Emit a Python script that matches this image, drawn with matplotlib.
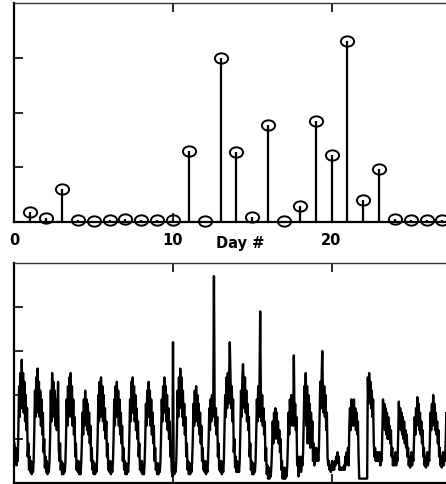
import numpy as np
import matplotlib
matplotlib.use("Agg")
import matplotlib.pyplot as plt
from matplotlib.path import Path
from matplotlib.transforms import Affine2D

# ---- daily totals (upper panel) ----
stem_days = list(range(1, 28))
stem_vals = [0.18, 0.07, 0.60, 0.04, 0.02, 0.03, 0.05, 0.03, 0.03, 0.03,
             1.29, 0.02, 3.00, 1.27, 0.10, 1.78, 0.01, 0.30, 1.85, 1.23,
             3.30, 0.40, 0.96, 0.05, 0.03, 0.04, 0.03]
day_ticks = [0, 10, 20]
day_labels = ["0", "10", "20"]

# ---- hourly series (lower panel), one row of 24 values per day ----
week1 = [
    [0.9, 0.5, 0.8, 0.4, 0.7, 0.5, 1.3, 2.2, 1.5, 2.5, 1.7, 2.8, 1.8, 2.5, 1.6, 2.3, 1.4, 2.0, 1.2, 1.7, 0.6, 0.9, 0.3, 0.6],
    [0.25, 0.5, 0.2, 0.45, 0.25, 0.5, 1.2, 2.1, 1.5, 2.4, 1.6, 2.6, 1.7, 2.3, 1.5, 2.1, 1.3, 1.9, 1.1, 1.6, 0.7, 1.0, 0.35, 0.6],
    [0.25, 0.5, 0.2, 0.4, 0.25, 0.5, 1.1, 2.1, 1.4, 2.5, 1.6, 2.3, 1.5, 2.1, 1.3, 1.9, 1.2, 1.7, 2.3, 0.8, 0.5, 0.9, 0.3, 0.5],
    [0.2, 0.45, 0.2, 0.4, 0.25, 0.45, 1.0, 1.9, 1.3, 2.2, 1.5, 2.4, 1.7, 2.5, 1.5, 2.2, 1.3, 1.9, 1.1, 1.5, 0.6, 0.9, 0.3, 0.5],
    [0.25, 0.5, 0.2, 0.4, 0.2, 0.45, 0.9, 1.6, 1.1, 1.9, 1.3, 2.1, 1.4, 1.9, 1.2, 1.8, 1.1, 1.6, 0.9, 1.3, 0.5, 0.8, 0.3, 0.5],
    [0.2, 0.45, 0.2, 0.4, 0.25, 0.5, 1.1, 2.0, 1.4, 2.3, 1.5, 2.4, 1.6, 2.2, 1.4, 2.0, 1.2, 1.7, 1.0, 1.4, 0.6, 0.9, 0.3, 0.5],
    [0.25, 0.5, 0.2, 0.4, 0.25, 0.45, 1.0, 1.9, 1.3, 2.2, 1.5, 2.3, 1.5, 2.1, 1.3, 1.9, 1.1, 1.6, 0.9, 1.3, 0.5, 0.8, 0.3, 0.5],
]
week2 = [
    [0.2, 0.45, 0.2, 0.4, 0.25, 0.5, 1.1, 1.9, 1.4, 2.3, 1.6, 2.4, 1.6, 2.2, 1.4, 2.0, 1.2, 1.7, 1.0, 1.4, 0.6, 0.9, 0.3, 0.5],
    [0.25, 0.5, 0.2, 0.4, 0.2, 0.45, 1.0, 1.8, 1.3, 2.1, 1.5, 2.3, 1.5, 2.1, 1.3, 1.9, 1.1, 1.6, 0.9, 1.3, 0.5, 0.8, 0.3, 0.45],
    [0.2, 0.45, 0.2, 0.4, 0.25, 0.5, 1.1, 1.9, 1.4, 2.2, 1.6, 2.4, 1.6, 2.2, 1.4, 2.0, 1.2, 1.7, 1.0, 1.4, 0.6, 0.9, 0.3, 0.15],
    [3.2, 0.4, 0.2, 0.45, 0.25, 0.5, 1.2, 2.1, 1.5, 2.4, 1.7, 2.6, 1.8, 2.4, 1.5, 2.1, 1.3, 1.8, 1.1, 1.5, 0.6, 0.9, 0.3, 0.5],
    [0.2, 0.45, 0.2, 0.4, 0.25, 0.5, 1.0, 1.8, 1.3, 2.1, 1.4, 2.2, 1.5, 2.0, 1.3, 1.8, 1.1, 1.6, 0.9, 1.3, 0.5, 0.8, 0.3, 0.5],
    [0.25, 0.5, 0.2, 0.4, 0.25, 0.5, 1.0, 1.7, 1.2, 1.9, 1.4, 2.0, 1.5, 1.9, 4.7, 1.8, 1.3, 1.7, 1.1, 1.5, 0.6, 0.9, 0.3, 0.5],
    [0.25, 0.5, 0.2, 0.45, 0.25, 0.5, 1.2, 2.0, 1.5, 2.4, 1.7, 2.5, 1.8, 2.4, 3.2, 2.5, 1.7, 2.2, 1.4, 1.9, 0.7, 1.0, 0.35, 0.6],
]
week3 = [
    [0.25, 0.5, 0.25, 0.45, 0.25, 0.5, 1.2, 2.1, 1.5, 2.4, 2.7, 2.2, 1.7, 2.4, 1.6, 2.1, 1.4, 1.8, 1.2, 1.5, 0.6, 0.9, 0.3, 0.5],
    [0.2, 0.45, 0.2, 0.4, 0.25, 0.5, 1.1, 1.9, 1.4, 2.2, 1.5, 2.2, 3.9, 2.1, 1.4, 2.0, 1.3, 1.7, 1.1, 1.4, 0.5, 0.8, 0.2, 0.4],
    [0.1, 0.35, 0.1, 0.3, 0.15, 0.4, 0.8, 1.4, 0.9, 1.6, 1.0, 1.7, 1.1, 1.6, 1.0, 1.4, 0.9, 1.2, 0.7, 1.0, 0.3, 0.5, 0.1, 0.3],
    [0.1, 0.35, 0.1, 0.3, 0.15, 0.4, 0.9, 1.6, 1.1, 1.9, 1.3, 2.0, 1.4, 1.9, 1.3, 2.9, 1.4, 1.8, 1.2, 1.5, 0.4, 0.6, 0.15, 0.35],
    [0.3, 0.6, 0.25, 0.5, 0.4, 0.7, 1.4, 2.2, 1.6, 2.5, 1.3, 2.2, 0.9, 2.0, 1.0, 1.8, 0.8, 1.6, 1.0, 1.4, 0.5, 0.9, 0.4, 0.7],
    [0.6, 0.8, 0.5, 0.7, 0.5, 0.8, 1.6, 2.3, 1.7, 2.4, 3.0, 2.1, 1.6, 2.2, 1.5, 2.0, 1.2, 1.6, 0.6, 0.4, 0.5, 0.3, 0.4, 0.25],
    [0.35, 0.5, 0.3, 0.45, 0.3, 0.5, 0.4, 0.6, 0.5, 0.7, 0.45, 0.6, 0.3, 0.35, 0.3, 0.35, 0.3, 0.35, 0.3, 0.4, 0.3, 0.6, 0.4, 0.7],
]
week4 = [
    [0.5, 0.8, 0.4, 1.3, 1.7, 1.2, 1.9, 1.4, 1.8, 1.3, 1.9, 1.4, 1.7, 1.2, 1.6, 1.1, 1.4, 0.6, 0.1, 0.1, 0.1, 0.1, 0.1, 0.1],
    [0.1, 0.1, 0.1, 0.1, 0.1, 0.1, 0.1, 2.4, 1.8, 2.5, 1.9, 2.3, 1.7, 2.1, 1.5, 1.9, 0.9, 0.6, 0.8, 0.5, 0.7, 0.5, 0.7, 0.5],
    [0.5, 0.7, 0.4, 0.6, 0.5, 1.2, 1.9, 1.3, 1.8, 1.2, 1.7, 1.1, 1.6, 1.0, 1.5, 1.0, 1.3, 0.9, 1.2, 0.6, 0.8, 0.4, 0.6, 0.4],
    [0.5, 0.7, 0.4, 0.6, 0.5, 1.1, 1.85, 1.3, 1.7, 1.2, 1.6, 1.1, 1.5, 1.0, 1.4, 0.9, 1.2, 0.8, 1.1, 0.6, 0.8, 0.4, 0.6, 0.35],
    [0.5, 0.7, 0.4, 0.6, 0.5, 1.0, 1.5, 1.1, 1.7, 1.3, 1.95, 1.4, 1.8, 1.2, 1.6, 1.1, 1.4, 0.9, 1.2, 0.6, 0.8, 0.4, 0.6, 0.35],
    [0.5, 0.7, 0.4, 0.6, 0.5, 1.0, 1.6, 1.2, 1.8, 1.3, 2.0, 1.4, 1.8, 1.2, 1.6, 1.1, 1.4, 0.9, 1.2, 0.6, 0.8, 0.4, 0.6, 0.35],
    [0.5, 0.7, 0.4, 0.6, 0.5, 1.0, 1.6, 1.1, 1.7, 1.2, 1.9, 1.3, 1.7, 1.1, 1.5, 1.0, 1.3, 0.8, 1.1, 0.6, 0.8, 0.4, 0.6, 0.35],
]

hourly = np.array(week1 + week2 + week3 + week4, dtype=float).ravel()
t_days = np.arange(hourly.size) / 24.0

W, H = 446, 484
fig = plt.figure(figsize=(W / 100, H / 100), dpi=100)
fig.patch.set_facecolor("white")

px_per_day = 15.85
x_left = 14.5
x_max = 28.0
ax_w = x_max * px_per_day


def frame(ax, yticks):
    ax.set_xlim(0, x_max)
    ax.set_xticks(day_ticks)
    ax.set_yticks(yticks)
    ax.tick_params(axis="both", direction="in", length=6.5, width=1.2,
                   top=True, bottom=True, left=True, right=False,
                   color="black")
    ax.set_yticklabels([])
    for side in ("left", "bottom"):
        ax.spines[side].set_linewidth(1.6)
    ax.spines["top"].set_linewidth(1.0)
    ax.spines["top"].set_color("#333333")
    ax.spines["right"].set_visible(False)


# upper panel: stem plot of daily values
ax1 = fig.add_axes([x_left / W, (H - 222) / H, ax_w / W, 219 / H])
frame(ax1, [1, 2, 3])
ax1.set_ylim(0, 4)
ellipse = Path.unit_circle().transformed(Affine2D().scale(1.0, 0.78))
markerline, stemlines, baseline = ax1.stem(stem_days, stem_vals,
                                           linefmt="k-", markerfmt="o",
                                           basefmt=" ")
stemlines.set_linewidth(1.6)
markerline.set_marker(ellipse)
markerline.set_markersize(9.5)
markerline.set_markerfacecolor("none")
markerline.set_markeredgecolor("black")
markerline.set_markeredgewidth(1.4)
markerline.set_clip_on(False)
ax1.set_xticklabels(day_labels, fontsize=10.5, fontweight="bold",
                    family="DejaVu Sans")
ax1.tick_params(axis="x", pad=8)
fig.text(240 / W, 1 - 243 / H, "Day #", ha="center", va="center",
         fontsize=10.5, fontweight="bold", family="DejaVu Sans")

# lower panel: hourly series
ax2 = fig.add_axes([x_left / W, (H - 483) / H, ax_w / W, 220 / H])
frame(ax2, [1, 2, 3, 4])
ax2.set_ylim(0, 5)
ax2.set_xticklabels([])
ax2.plot(t_days, hourly, color="black", linewidth=1.7)

fig.savefig("out.png", dpi=100, facecolor="white")
